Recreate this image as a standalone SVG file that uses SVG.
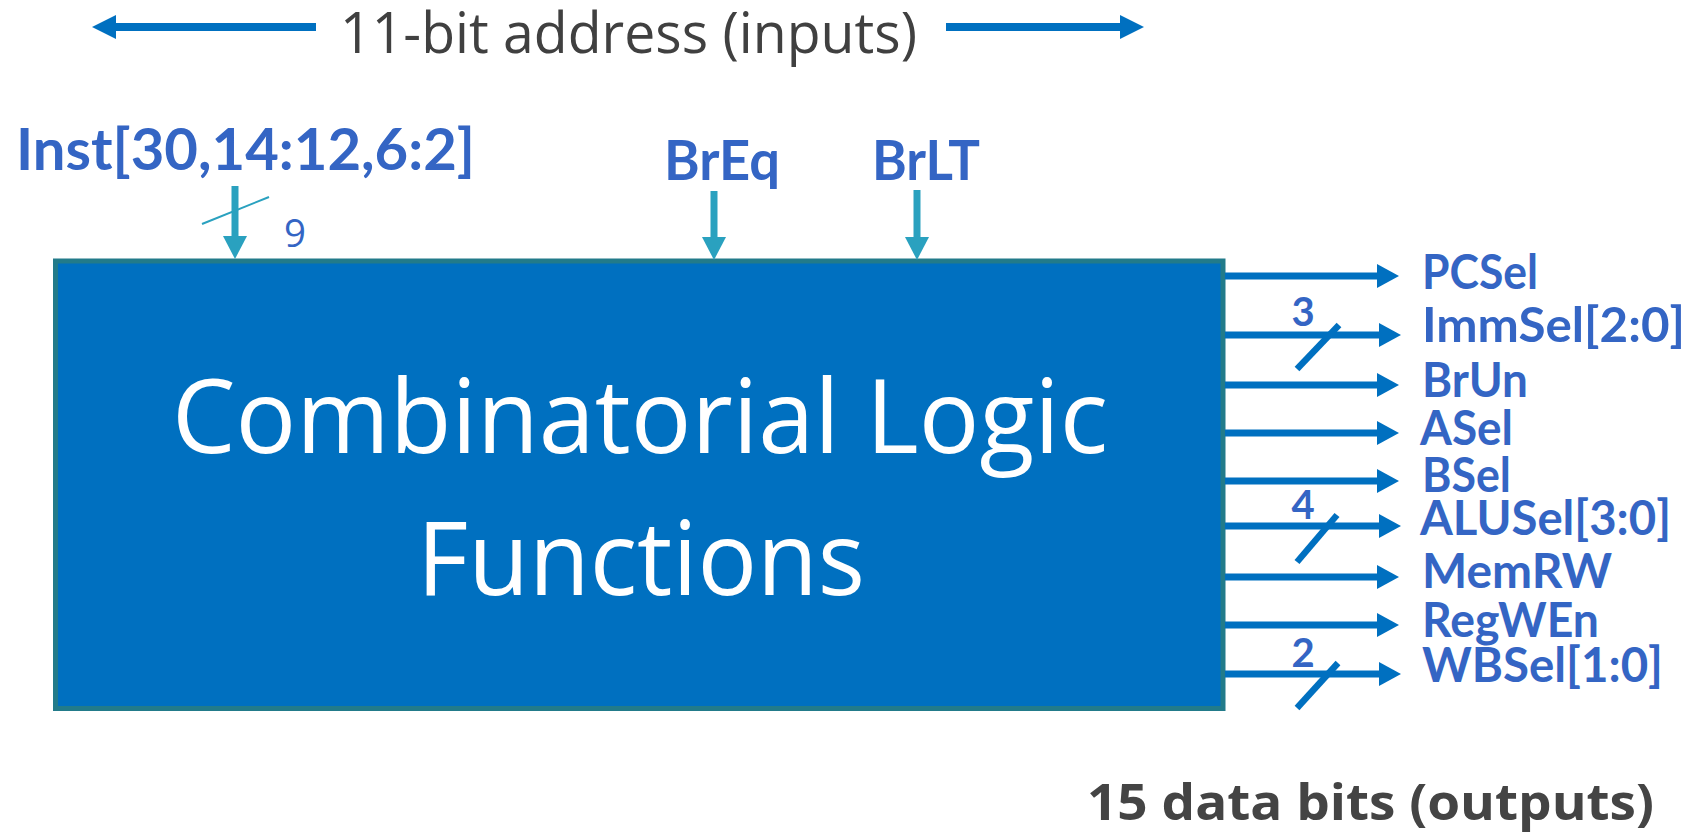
<svg xmlns="http://www.w3.org/2000/svg" width="1704" height="832" viewBox="0 0 1704 832">
<style>
.lbl{font-family:Lato,"Open Sans","Liberation Sans",sans-serif;font-weight:bold;fill:#3465c4;}
.out{font-size:47px;}
.num{font-size:40px;text-anchor:middle;}
.title{font-family:"Open Sans","Liberation Sans",sans-serif;fill:#404040;}
.box{font-family:"Open Sans","Liberation Sans",sans-serif;fill:#ffffff;font-size:102px;text-anchor:middle;}
.bw{stroke:#0070c0;stroke-width:7;fill:none;}
.tl{stroke:#2aa1bf;stroke-width:7;fill:none;}
.slash{stroke:#0070c0;stroke-width:6.5;fill:none;}
</style>
<defs>
<marker id="ah" markerUnits="userSpaceOnUse" markerWidth="24" markerHeight="26" refX="0" refY="12" orient="auto" overflow="visible">
<path d="M0,0 L22,12 L0,24 Z" fill="#0070c0"/>
</marker>
<marker id="ahTop" markerUnits="userSpaceOnUse" markerWidth="26" markerHeight="26" refX="0" refY="12" orient="auto" overflow="visible">
<path d="M0,0 L24,12 L0,24 Z" fill="#0070c0"/>
</marker>
<marker id="ahTeal" markerUnits="userSpaceOnUse" markerWidth="24" markerHeight="26" refX="0" refY="12" orient="auto" overflow="visible">
<path d="M0,0 L23,12 L0,24 Z" fill="#2aa1bf"/>
</marker>
</defs>
<rect width="1704" height="832" fill="#ffffff"/>

<g id="title">
<text class="title" x="340" y="53" font-size="56" textLength="577" lengthAdjust="spacingAndGlyphs">11-bit address (inputs)</text>
<line x1="316" y1="27" x2="116" y2="27" stroke="#0070c0" stroke-width="8" marker-end="url(#ahTop)"/>
<line x1="946" y1="27" x2="1120" y2="27" stroke="#0070c0" stroke-width="8" marker-end="url(#ahTop)"/>
</g>

<g id="logic-block">
<rect x="55.5" y="261" width="1167.5" height="447.5" fill="#0070c0" stroke="#227b8a" stroke-width="5"/>
<text class="box" x="640" y="453" textLength="936" lengthAdjust="spacingAndGlyphs">Combinatorial Logic</text>
<text class="box" x="641" y="595" textLength="448" lengthAdjust="spacingAndGlyphs">Functions</text>
</g>

<g id="input-inst">
<text class="lbl" x="16" y="170" font-size="58" textLength="459" lengthAdjust="spacingAndGlyphs">Inst[30,14:12,6:2]</text>
<text x="284" y="247" font-family="'Open Sans','Liberation Sans',sans-serif" font-size="39" fill="#3465c4" textLength="22" lengthAdjust="spacingAndGlyphs">9</text>
</g>
<g id="input-breq">
<text class="lbl" x="664" y="180" font-size="56" textLength="116" lengthAdjust="spacingAndGlyphs">BrEq</text>
</g>
<g id="input-brlt">
<text class="lbl" x="872" y="180" font-size="56" textLength="108" lengthAdjust="spacingAndGlyphs">BrLT</text>
</g>

<g id="outputs">
<text class="lbl out" x="1422" y="289" textLength="116" lengthAdjust="spacingAndGlyphs">PCSel</text>
<text class="lbl out" x="1422" y="342" textLength="263" lengthAdjust="spacingAndGlyphs">ImmSel[2:0]</text>
<text class="lbl out" x="1422" y="397" textLength="106" lengthAdjust="spacingAndGlyphs">BrUn</text>
<text class="lbl out" x="1420" y="445" textLength="93" lengthAdjust="spacingAndGlyphs">ASel</text>
<text class="lbl out" x="1422" y="492" textLength="89" lengthAdjust="spacingAndGlyphs">BSel</text>
<text class="lbl out" x="1420" y="535" textLength="251" lengthAdjust="spacingAndGlyphs">ALUSel[3:0]</text>
<text class="lbl out" x="1422" y="588" textLength="190" lengthAdjust="spacingAndGlyphs">MemRW</text>
<text class="lbl out" x="1422" y="637" textLength="177" lengthAdjust="spacingAndGlyphs">RegWEn</text>
<text class="lbl out" x="1422" y="682" textLength="241" lengthAdjust="spacingAndGlyphs">WBSel[1:0]</text>
<text class="lbl num" x="1303" y="326">3</text>
<text class="lbl num" x="1303" y="519">4</text>
<text class="lbl num" x="1303" y="667">2</text>
</g>

<g id="footer">
<text x="1087" y="820" font-family="'Open Sans','Liberation Sans',sans-serif" font-weight="bold" font-size="50" fill="#444444" textLength="567" lengthAdjust="spacingAndGlyphs">15 data bits (outputs)</text>
</g>

<g id="connectors">
<line class="tl" x1="235" y1="186" x2="235" y2="236" marker-end="url(#ahTeal)"/>
<line x1="202" y1="224" x2="269" y2="197" stroke="#2aa1bf" stroke-width="2"/>
<line class="tl" x1="714" y1="191" x2="714" y2="237" marker-end="url(#ahTeal)"/>
<line class="tl" x1="917" y1="190" x2="917" y2="237" marker-end="url(#ahTeal)"/>

<line class="bw" x1="1225" y1="276" x2="1377" y2="276" marker-end="url(#ah)"/>
<line class="bw" x1="1225" y1="335" x2="1379" y2="335" marker-end="url(#ah)"/>
<line class="bw" x1="1225" y1="385" x2="1377" y2="385" marker-end="url(#ah)"/>
<line class="bw" x1="1225" y1="433" x2="1377" y2="433" marker-end="url(#ah)"/>
<line class="bw" x1="1225" y1="481" x2="1377" y2="481" marker-end="url(#ah)"/>
<line class="bw" x1="1225" y1="526" x2="1379" y2="526" marker-end="url(#ah)"/>
<line class="bw" x1="1225" y1="577" x2="1377" y2="577" marker-end="url(#ah)"/>
<line class="bw" x1="1225" y1="625" x2="1377" y2="625" marker-end="url(#ah)"/>
<line class="bw" x1="1225" y1="674" x2="1379" y2="674" marker-end="url(#ah)"/>
<line class="slash" x1="1297" y1="369" x2="1339" y2="325"/>
<line class="slash" x1="1297" y1="562" x2="1337" y2="515"/>
<line class="slash" x1="1297" y1="708" x2="1338" y2="663"/>
</g>
</svg>
